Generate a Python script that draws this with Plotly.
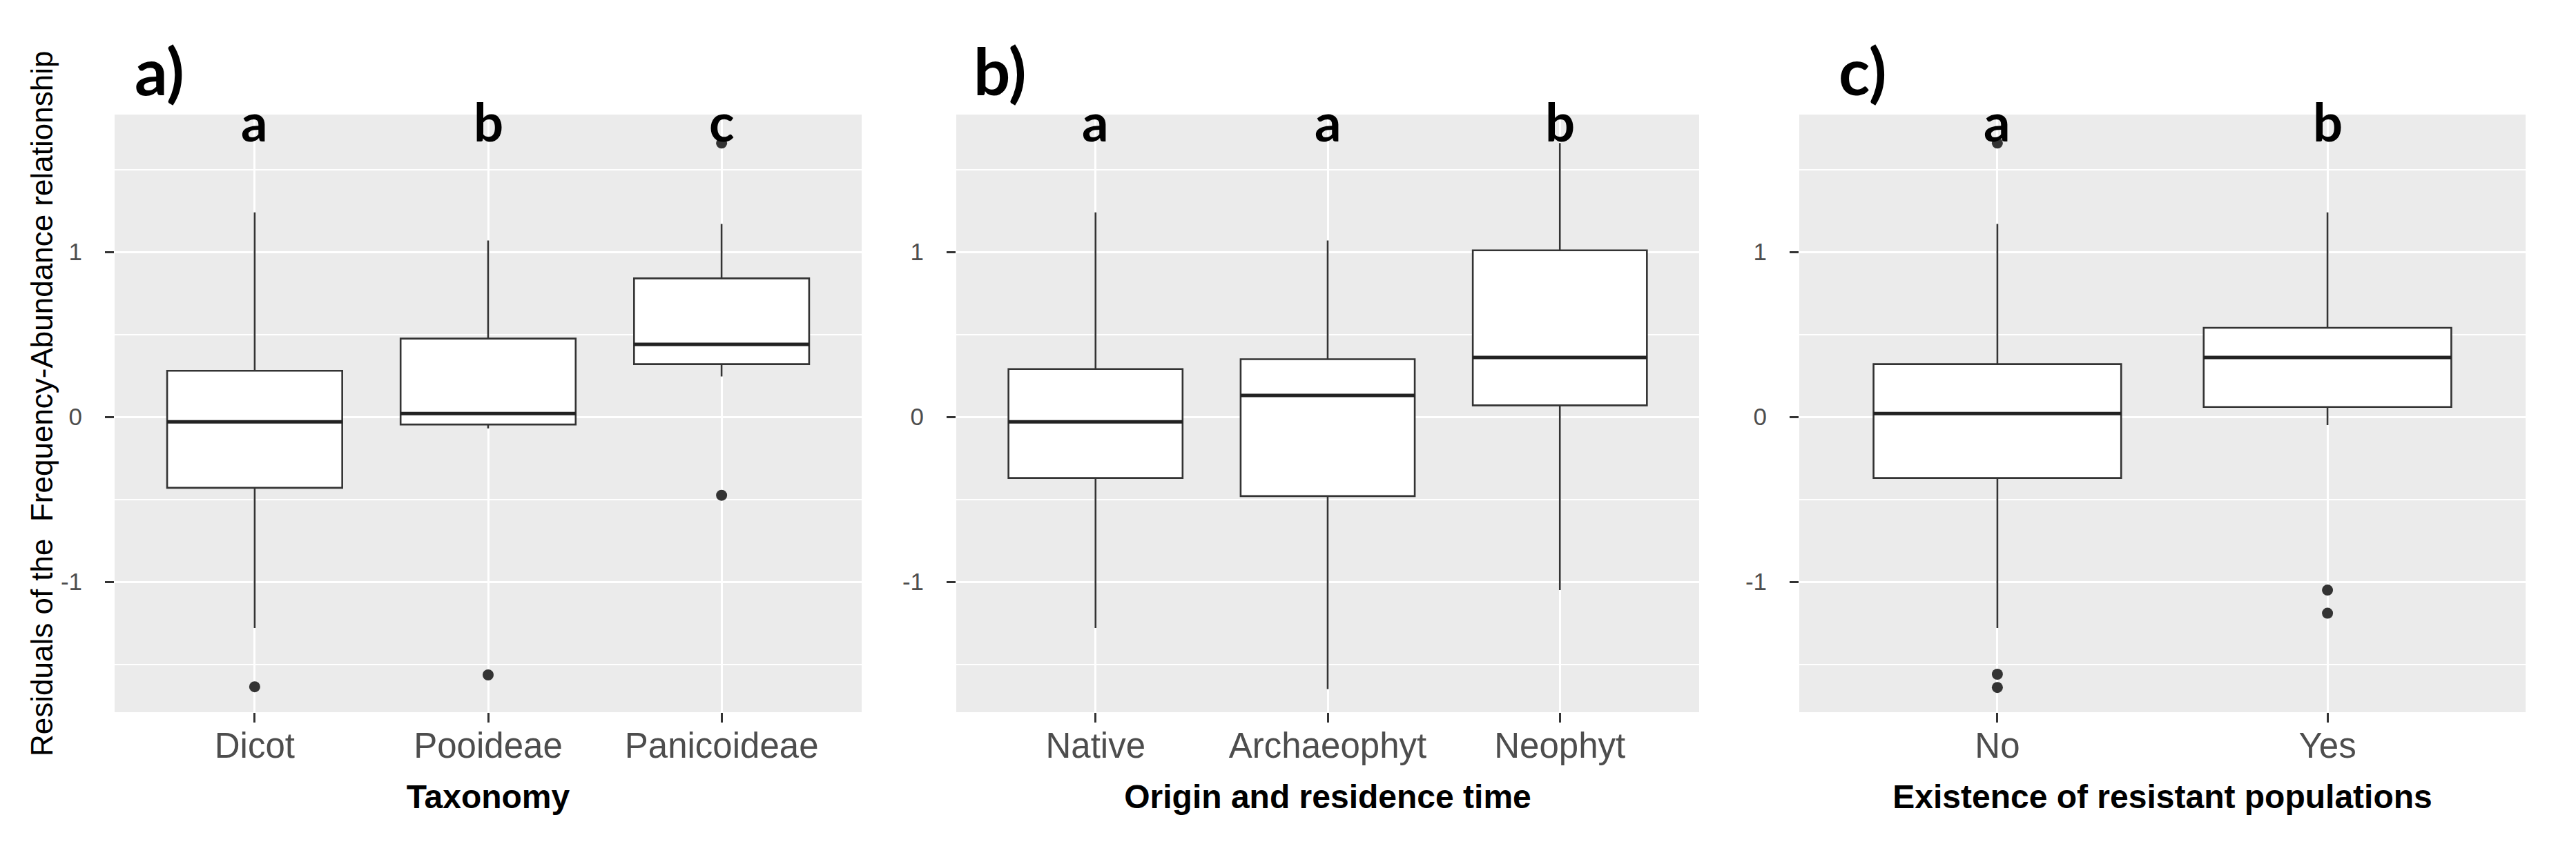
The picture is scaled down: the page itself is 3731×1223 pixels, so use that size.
import plotly.graph_objects as go

W, H = 3731, 1223

# ---- data ----
tax_cats = ["Dicot", "Pooideae", "Panicoideae"]
tax_lower = [-1.28, -0.07, 0.245]
tax_q1 = [-0.43, -0.046, 0.32]
tax_med = [-0.03, 0.02, 0.44]
tax_q3 = [0.28, 0.475, 0.84]
tax_upper = [1.24, 1.07, 1.17]
tax_out_x = ["Dicot", "Pooideae", "Panicoideae", "Panicoideae"]
tax_out_y = [-1.636, -1.564, -0.475, 1.66]
tax_letters = ["a", "b", "c"]

org_cats = ["Native", "Archaeophyt", "Neophyt"]
org_lower = [-1.28, -1.65, -1.05]
org_q1 = [-0.37, -0.48, 0.07]
org_med = [-0.03, 0.13, 0.36]
org_q3 = [0.29, 0.35, 1.01]
org_upper = [1.24, 1.07, 1.66]
org_letters = ["a", "a", "b"]

res_cats = ["No", "Yes"]
res_lower = [-1.28, -0.05]
res_q1 = [-0.37, 0.06]
res_med = [0.02, 0.36]
res_q3 = [0.32, 0.54]
res_upper = [1.17, 1.24]
res_out_x = ["No", "No", "No", "Yes", "Yes"]
res_out_y = [1.66, -1.56, -1.64, -1.05, -1.19]
res_letters = ["a", "b"]

y_ticks = [-1, 0, 1]
panel_labels = ["a)", "b)", "c)"]
x_titles = ["Taxonomy", "Origin and residence time", "Existence of resistant populations"]
y_title = "Residuals of the  Frequency-Abundance relationship"

# ---- styling ----
BG = "#EBEBEB"
LINE = "#333333"
TICKTXT = "#4D4D4D"
SANS = "Liberation Sans, Arial, sans-serif"
BOLDF = "Lato, Open Sans, sans-serif"
YR = [-1.79, 1.833]
LETTER_Y = 1.795

doms = [[158 / W, 1240 / W], [1377 / W, 2453 / W], [2598 / W, 3650 / W]]
ydom = [1 - 1024 / H, 1 - 158 / H]
label_px = [185, 1400, 2653]

fig = go.Figure()

panels = [
    (tax_cats, tax_lower, tax_q1, tax_med, tax_q3, tax_upper, tax_out_x, tax_out_y, tax_letters),
    (org_cats, org_lower, org_q1, org_med, org_q3, org_upper, [], [], org_letters),
    (res_cats, res_lower, res_q1, res_med, res_q3, res_upper, res_out_x, res_out_y, res_letters),
]

annotations = []
for i, (cats, lo, q1, med, q3, up, ox, oy, letters) in enumerate(panels):
    xa = "x" if i == 0 else f"x{i+1}"
    ya = "y" if i == 0 else f"y{i+1}"
    fig.add_trace(go.Box(
        x=cats, q1=q1, median=med, q3=q3, lowerfence=lo, upperfence=up,
        xaxis=xa, yaxis=ya, width=0.75, whiskerwidth=0,
        fillcolor="white", line=dict(color=LINE, width=2.6),
        boxpoints=False, showlegend=False, hoverinfo="skip",
    ))
    # thicker median line (ggplot draws the median bolder)
    fig.add_trace(go.Box(
        x=cats, q1=med, median=med, q3=med, lowerfence=med, upperfence=med,
        xaxis=xa, yaxis=ya, width=0.75, whiskerwidth=0,
        fillcolor="rgba(0,0,0,0)", line=dict(color="#222222", width=5),
        boxpoints=False, showlegend=False, hoverinfo="skip",
    ))
    if ox:
        fig.add_trace(go.Scatter(
            x=ox, y=oy, mode="markers", xaxis=xa, yaxis=ya,
            marker=dict(color=LINE, size=16), showlegend=False, hoverinfo="skip",
        ))
    for c, l in zip(cats, letters):
        annotations.append(dict(
            x=c, y=LETTER_Y, xref=xa, yref=ya, text=l, showarrow=False,
            font=dict(family=BOLDF, size=76, color="black", weight="bold"),
            xanchor="center", yanchor="middle",
        ))
    annotations.append(dict(
        x=label_px[i] / W, y=1 - 93 / H, xref="paper", yref="paper",
        text=panel_labels[i], showarrow=False, xanchor="left", yanchor="middle",
        font=dict(family=BOLDF, size=94, color="black", weight="bold"),
    ))
    key = "" if i == 0 else str(i + 1)
    fig.update_layout(**{
        f"xaxis{key}": dict(
            domain=doms[i], anchor=ya, type="category",
            range=[-0.6, len(cats) - 0.4],
            showgrid=True, gridcolor="white", gridwidth=3,
            ticks="outside", ticklen=14, tickwidth=2.5, tickcolor=LINE,
            tickfont=dict(family=SANS, size=51, color=TICKTXT),
            ticklabelstandoff=-10,
            title=dict(text=x_titles[i], standoff=29,
                       font=dict(family=SANS, size=48, color="black", weight="bold")),
            showline=False, zeroline=False, fixedrange=True,
        ),
        f"yaxis{key}": dict(
            domain=ydom, anchor=xa, range=YR,
            tickvals=y_ticks, ticktext=[str(v) for v in y_ticks],
            showgrid=True, gridcolor="white", gridwidth=3,
            minor=dict(dtick=0.5, tick0=0.5, showgrid=True, gridcolor="white", gridwidth=1.6, ticks=""),
            ticks="outside", ticklen=13, tickwidth=2.5, tickcolor=LINE,
            tickfont=dict(family=SANS, size=35, color=TICKTXT),
            ticklabelstandoff=26,
            showline=False, zeroline=False, fixedrange=True,
        ),
    })

annotations.append(dict(
    x=52 / W, y=1 - 577 / H, xref="paper", yref="paper", text=y_title,
    textangle=-90, showarrow=False, xanchor="center", yanchor="middle",
    font=dict(family=SANS, size=44, color="black"),
))

fig.update_layout(
    width=W, height=H, margin=dict(l=0, r=0, t=0, b=0),
    paper_bgcolor="white", plot_bgcolor=BG, boxmode="overlay",
    annotations=annotations, showlegend=False,
)

fig.write_html("out.html")
